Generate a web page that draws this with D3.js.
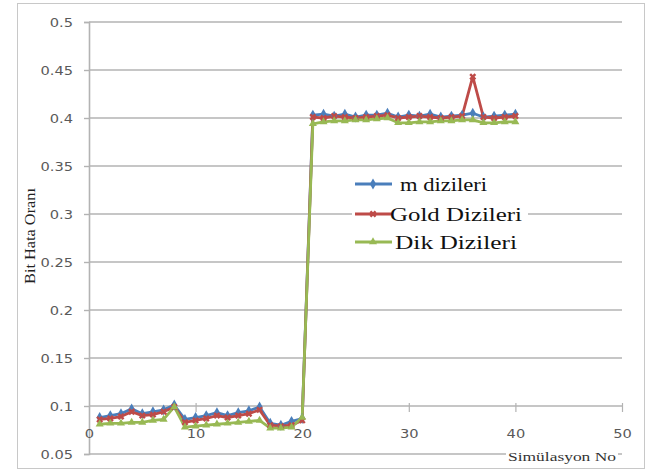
<!DOCTYPE html>
<html>
<head>
<meta charset="utf-8">
<script src="https://cdn.jsdelivr.net/npm/d3@7"></script>
<style>
  html, body { margin: 0; padding: 0; background: #fff; }
  svg { display: block; }
</style>
</head>
<body>
<svg id="chart" width="660" height="473"></svg>
<script>
// Simulation numbers 1..40
const simNo = d3.range(1, 41);

// Bit error rate per sequence family
const mDizileri = [0.088, 0.090, 0.092, 0.097, 0.092, 0.094, 0.096, 0.101, 0.086, 0.088,
                   0.090, 0.093, 0.090, 0.093, 0.095, 0.099, 0.082, 0.080, 0.084, 0.087,
                   0.403, 0.404, 0.402, 0.404, 0.401, 0.403, 0.403, 0.405, 0.401, 0.403,
                   0.402, 0.404, 0.401, 0.402, 0.403, 0.405, 0.401, 0.402, 0.403, 0.404];
const goldDizileri = [0.086, 0.087, 0.089, 0.094, 0.090, 0.091, 0.094, 0.099, 0.083, 0.085,
                      0.087, 0.090, 0.088, 0.090, 0.092, 0.096, 0.080, 0.079, 0.080, 0.085,
                      0.401, 0.400, 0.402, 0.401, 0.400, 0.401, 0.402, 0.403, 0.400, 0.401,
                      0.402, 0.401, 0.400, 0.401, 0.402, 0.443, 0.401, 0.400, 0.401, 0.402];
const dikDizileri = [0.081, 0.082, 0.082, 0.083, 0.083, 0.085, 0.086, 0.099, 0.078, 0.079,
                     0.080, 0.081, 0.082, 0.083, 0.084, 0.085, 0.077, 0.077, 0.078, 0.088,
                     0.394, 0.396, 0.397, 0.397, 0.398, 0.398, 0.399, 0.400, 0.395, 0.395,
                     0.396, 0.396, 0.397, 0.397, 0.398, 0.398, 0.395, 0.395, 0.396, 0.396];

const seriesNames = ["m dizileri", "Gold Dizileri", "Dik Dizileri"];
const xTicks = [0, 10, 20, 30, 40, 50];
const yTicks = [0.05, 0.1, 0.15, 0.2, 0.25, 0.3, 0.35, 0.4, 0.45, 0.5];

const series = [
  { name: seriesNames[0], values: mDizileri, color: "#4a7ebb", marker: "diamond" },
  { name: seriesNames[1], values: goldDizileri, color: "#be4b48", marker: "cross" },
  { name: seriesNames[2], values: dikDizileri, color: "#98b954", marker: "triangle" }
];

const svg = d3.select("#chart");
const x = d3.scaleLinear().domain([0, 50]).range([89, 622]);
const y = d3.scaleLinear().domain([0.05, 0.5]).range([454, 22]);
const STRETCH = 1.22;
const gridColor = "#b3b3b3";
const labelColor = "#595959";

// chart frame
svg.append("rect")
  .attr("x", 17.5).attr("y", 3.5).attr("width", 627).attr("height", 465)
  .attr("fill", "#fff").attr("stroke", "#c8c8c8");

// horizontal gridlines
svg.append("g").selectAll("line").data(yTicks).join("line")
  .attr("x1", x(0)).attr("x2", x(50))
  .attr("y1", d => y(d)).attr("y2", d => y(d))
  .attr("stroke", gridColor).attr("stroke-width", 1.6);

// vertical axis with ticks
const yAxis = svg.append("g").attr("transform", `translate(${x(0)},0)`)
  .call(d3.axisLeft(y).tickValues(yTicks).tickSize(5).tickFormat(d3.format("")));
yAxis.select(".domain").attr("stroke", gridColor).attr("stroke-width", 1.6);
yAxis.selectAll(".tick line").attr("stroke", gridColor).attr("stroke-width", 1.4);
yAxis.selectAll(".tick text")
  .attr("x", null).attr("dy", null)
  .attr("fill", labelColor)
  .attr("font-family", "DejaVu Sans").attr("font-size", 12)
  .attr("text-anchor", "end").attr("dominant-baseline", "central")
  .attr("transform", `translate(-16,0) scale(${STRETCH},1)`);

// horizontal axis crossing at 0.1
const xAxis = svg.append("g").attr("transform", `translate(0,${y(0.1)})`)
  .call(d3.axisBottom(x).tickValues(xTicks).tickSize(0).tickPadding(0));
xAxis.select(".domain").remove();
xAxis.selectAll(".tick").append("line")
  .attr("y1", -3).attr("y2", 6)
  .attr("stroke", gridColor).attr("stroke-width", 1.2)
  .attr("opacity", d => (d === 0 ? 0 : 1));
xAxis.selectAll(".tick text")
  .attr("y", null).attr("dy", null)
  .attr("fill", labelColor)
  .attr("font-family", "DejaVu Sans").attr("font-size", 12)
  .attr("text-anchor", "middle").attr("dominant-baseline", "central")
  .attr("transform", `translate(0,28) scale(${STRETCH},1)`);

// series lines
const line = d3.line().x((d, i) => x(simNo[i])).y(d => y(d));
const plot = svg.append("g");

function markerPath(type) {
  if (type === "diamond") return d3.symbol(d3.symbolDiamond, 34)();
  if (type === "triangle") return d3.symbol(d3.symbolTriangle, 28)();
  return d3.symbol(d3.symbolCross, 30)();
}

series.forEach(s => {
  plot.append("path").datum(s.values)
    .attr("d", line).attr("fill", "none")
    .attr("stroke", s.color).attr("stroke-width", 2.8)
    .attr("stroke-linejoin", "round");
});
series.forEach(s => {
  plot.append("g").selectAll("path").data(s.values).join("path")
    .attr("d", markerPath(s.marker))
    .attr("transform", (d, i) => `translate(${x(simNo[i])},${y(d)})` + (s.marker === "cross" ? " rotate(45)" : ""))
    .attr("fill", s.color);
});

// legend
const legend = svg.append("g");
legend.append("rect")
  .attr("x", 352).attr("y", 172).attr("width", 176).attr("height", 84)
  .attr("fill", "#fff");
const legendRows = [
  { s: series[0], y: 184, tx: 400, w: 87 },
  { s: series[1], y: 214, tx: 390, w: 132 },
  { s: series[2], y: 242, tx: 395, w: 122 }
];
legendRows.forEach(r => {
  legend.append("line")
    .attr("x1", 355).attr("x2", 392).attr("y1", r.y).attr("y2", r.y)
    .attr("stroke", r.s.color).attr("stroke-width", 2.8);
  legend.append("path")
    .attr("d", markerPath(r.s.marker))
    .attr("transform", `translate(373,${r.y})` + (r.s.marker === "cross" ? " rotate(45)" : ""))
    .attr("fill", r.s.color);
  legend.append("text")
    .attr("x", r.tx).attr("y", r.y)
    .attr("dominant-baseline", "central")
    .attr("font-family", "Liberation Serif").attr("font-size", 19)
    .attr("fill", "#111")
    .attr("textLength", r.w).attr("lengthAdjust", "spacingAndGlyphs")
    .text(r.s.name);
});

// axis titles
svg.append("text")
  .attr("transform", "translate(30,236) rotate(-90)")
  .attr("text-anchor", "middle").attr("dominant-baseline", "central")
  .attr("font-family", "Liberation Serif").attr("font-size", 14)
  .attr("fill", "#222")
  .attr("textLength", 96).attr("lengthAdjust", "spacingAndGlyphs")
  .text("Bit Hata Oranı");

svg.append("rect")
  .attr("x", 506).attr("y", 447).attr("width", 112).attr("height", 17)
  .attr("fill", "#fff");
svg.append("text")
  .attr("x", 562).attr("y", 456)
  .attr("text-anchor", "middle").attr("dominant-baseline", "central")
  .attr("font-family", "Liberation Serif").attr("font-size", 13)
  .attr("fill", "#333")
  .attr("textLength", 108).attr("lengthAdjust", "spacingAndGlyphs")
  .text("Simülasyon No");
</script>
</body>
</html>
